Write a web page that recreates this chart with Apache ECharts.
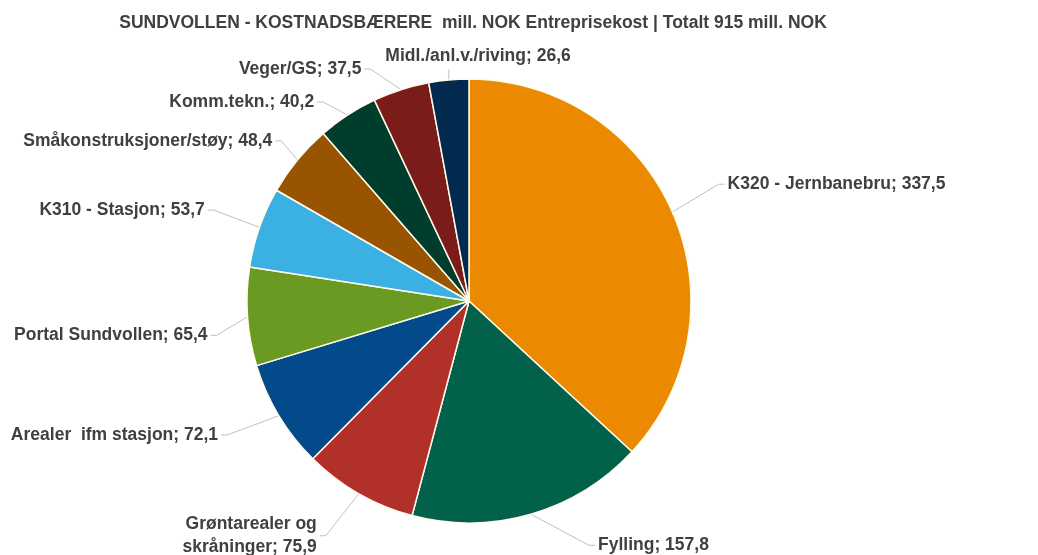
<!DOCTYPE html>
<html><head><meta charset="utf-8">
<script src="https://cdn.jsdelivr.net/npm/echarts@6/dist/echarts.min.js"></script>
<style>html,body{margin:0;padding:0;background:#fff}#c{width:1038px;height:555px}</style>
</head><body><div id="c"></div>
<script>
const titleText = 'SUNDVOLLEN - KOSTNADSBÆRERE  mill. NOK Entreprisekost | Totalt 915 mill. NOK';
const categories = ['K320 - Jernbanebru','Fylling','Grøntarealer og\nskråninger','Arealer  ifm stasjon','Portal Sundvollen','K310 - Stasjon','Småkonstruksjoner/støy','Komm.tekn.','Veger/GS','Midl./anl.v./riving'];
const values = [337.5,157.8,75.9,72.1,65.4,53.7,48.4,40.2,37.5,26.6];
const colors = ['#EB8A00','#02614A','#B2302A','#034A8A','#6A9A22','#3BB1E3','#985400','#003D2C','#7A1C1A','#022A4E'];
// label nudges (layout only) relative to ECharts' default placement
const labelShift = [[20,-19],[46,10],[-16,23],[-31,8],[-8,17],[-24,-10],[2,-5],[5,-6],[13,-14],[139,-2]];

const CX = 469, CY = 301;
const data = categories.map((n,i)=>({name:n,value:values[i],itemStyle:{color:colors[i]}}));
const chart = echarts.init(document.getElementById('c'));
chart.setOption({
  animation:false,
  title:{text:titleText,left:468,top:9,textAlign:'center',textStyle:{fontFamily:'Liberation Sans, Arial',fontSize:17.5,fontWeight:'bold',color:'#404040'}},
  series:[{
    type:'pie',
    center:[CX,CY],
    radius:222,
    startAngle:90,
    clockwise:true,
    data:data,
    itemStyle:{borderColor:'#FFFBEA',borderWidth:1.5},
    label:{
      show:true,
      formatter:p=>p.name+'; '+String(p.value).replace('.',','),
      fontFamily:'Liberation Sans, Arial',fontSize:17.5,fontWeight:'bold',color:'#404040',lineHeight:23
    },
    labelLine:{show:true,length:22,length2:10,lineStyle:{color:'#BFBFBF',width:1},smooth:false},
    labelLayout:function(params){
      const s = labelShift[params.dataIndex];
      const r = params.labelRect;
      const nx = r.x + s[0], ny = r.y + s[1];
      const p0 = params.labelLinePoints ? params.labelLinePoints[0] : [CX,CY];
      let p1, p2;
      if (p0[0] >= nx && p0[0] <= nx + r.width) {
        p2 = [p0[0], ny + r.height + 2];
        p1 = p2;
      } else if (nx > p0[0]) {
        p2 = [nx - 3, ny + r.height/2];
        p1 = [p2[0] - 6, p2[1]];
      } else {
        p2 = [nx + r.width + 3, ny + r.height/2];
        p1 = [p2[0] + 6, p2[1]];
      }
      return {dx:s[0], dy:s[1], labelLinePoints:[p0,p1,p2]};
    }
  }]
});
</script></body></html>
